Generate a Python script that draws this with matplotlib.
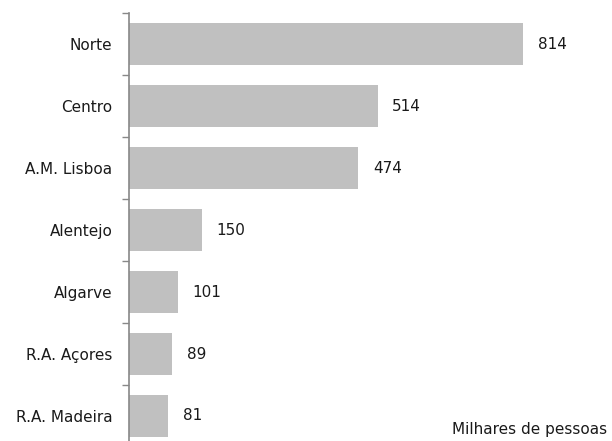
import matplotlib.pyplot as plt
import numpy as np

regioes = ["Norte", "Centro", "A.M. Lisboa", "Alentejo", "Algarve", "R.A. Açores", "R.A. Madeira"]
valores = [814, 514, 474, 150, 101, 89, 81]

fig = plt.figure(figsize=(6.12, 4.41), dpi=100)
# axes placed in pixel terms; bottom runs slightly past the figure edge
ax = fig.add_axes([129/612, -6/441, (600-129)/612, 434/441])

y = np.arange(len(regioes))
ax.barh(y, valores, height=0.68, color="#c0c0c0", zorder=2)
ax.set_ylim(len(regioes) - 0.5, -0.5)
ax.set_xlim(0, (600-129)/0.484)

for yi, v in zip(y, valores):
    ax.annotate(str(v), (v, yi), xytext=(10.5, 0), textcoords="offset points",
                va="center", ha="left", fontsize=11, color="#1a1a1a")

ax.set_yticks(y)
ax.set_yticklabels(regioes, fontsize=11, color="#1a1a1a")
ax.set_yticks(np.arange(len(regioes) + 1) - 0.5, minor=True)
ax.tick_params(axis="y", which="major", length=0, pad=12)
ax.tick_params(axis="y", which="minor", length=5, color="#888888", width=1)
ax.set_xticks([])
for s in ["top", "right", "bottom"]:
    ax.spines[s].set_visible(False)
ax.spines["left"].set_color("#888888")
ax.spines["left"].set_linewidth(1.2)

fig.text(607/612, 1 - 434/441, "Milhares de pessoas", ha="right", va="baseline",
         fontsize=11, color="#1a1a1a")

fig.savefig("out.png", dpi=100)
